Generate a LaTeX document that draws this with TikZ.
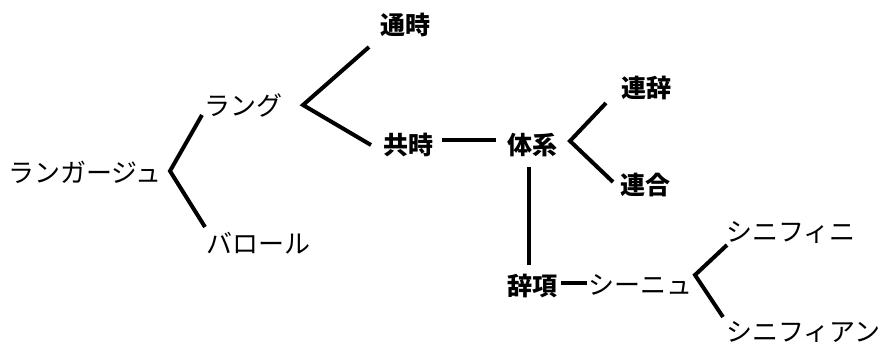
\documentclass[tikz,border=0pt]{standalone}
\usepackage{fontspec}
\setmainfont{Noto Sans CJK JP}
\begin{document}
\begin{tikzpicture}[x=1pt,y=-1pt,
  lbl/.style={anchor=west,inner sep=0pt,font=\fontsize{26}{28}\selectfont},
  kj/.style={anchor=west,inner sep=0pt,font=\fontsize{25}{27}\selectfont\bfseries},
  ln/.style={line width=4pt,line cap=butt}]
\useasboundingbox (0,0) rectangle (880,341);
\node[lbl] (langage) at (8,172) {ランガージュ};
\node[lbl] (langue) at (204,105) {ラング};
\node[lbl] (parole) at (206,243) {バロール};
\node[kj] (tsuuji) at (380,25) {通時};
\node[kj] (kyouji) at (383,145) {共時};
\node[kj] (taikei) at (507,145) {体系};
\node[kj] (renji) at (621,88) {連辞};
\node[kj] (rengou) at (620,185) {連合};
\node[kj] (jikou) at (507,286) {辞項};
\node[lbl] (signe) at (588,285) {シーニュ};
\node[lbl] (signifie) at (726,233) {シニフィニ};
\node[lbl] (signifiant) at (726,333) {シニフィアン};
% bracket 1
\coordinate (v1) at (170,171);
\coordinate (a1) at (202,115);
\coordinate (b1) at (205,227);
\draw[ln] (a1) -- (v1) -- (b1);
% bracket 2
\coordinate (v2) at (303,105);
\coordinate (a2) at (369,47);
\coordinate (b2) at (371,145);
\draw[ln] (a2) -- (v2) -- (b2);
% kyouji - taikei
\coordinate (h1) at (442,140);
\coordinate (h2) at (496,140);
\draw[ln] (h1) -- (h2);
% taikei - jikou
\coordinate (t1) at (529,167);
\coordinate (t2) at (529,265);
\draw[ln] (t1) -- (t2);
% bracket 3
\coordinate (v3) at (570,141);
\coordinate (a3) at (606,103);
\coordinate (b3) at (613,182);
\draw[ln] (a3) -- (v3) -- (b3);
% jikou - signe
\coordinate (j1) at (561,283);
\coordinate (j2) at (587,283);
\draw[ln] (j1) -- (j2);
% bracket 4
\coordinate (v4) at (695,275);
\coordinate (a4) at (727,245);
\coordinate (b4) at (723,317);
\draw[ln] (a4) -- (v4) -- (b4);
\end{tikzpicture}
\end{document}
